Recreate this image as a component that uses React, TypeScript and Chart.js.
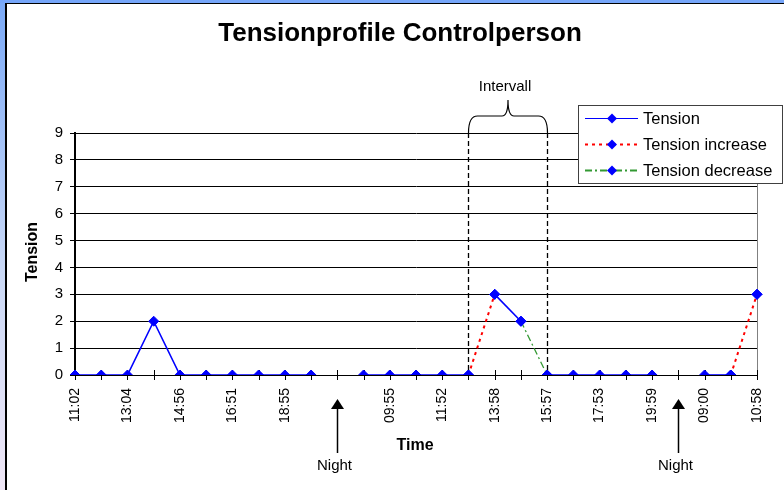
import React, { useEffect, useRef } from 'react';
import { Chart, registerables } from 'chart.js';

Chart.register(...registerables);

// ---------- data ----------
const categories: string[] = [
  '11:02', '', '13:04', '', '14:56', '', '16:51', '', '18:55', '', '', '',
  '09:55', '', '11:52', '', '13:58', '', '15:57', '', '17:53', '', '19:59', '',
  '09:00', '', '10:58',
];
const tension: (number | null)[] = [
  0, 0, 0, 2, 0, 0, 0, 0, 0, 0, null, 0, 0, 0, 0, 0, 3, 2, 0, 0, 0, 0, 0, null, 0, 0, 3,
];
const tensionIncrease: (number | null)[] = [
  null, null, null, null, null, null, null, null, null, null, null, null, null, null, null,
  0, 3, null, null, null, null, null, null, null, null, 0, 3,
];
const tensionDecrease: (number | null)[] = [
  null, null, null, null, null, null, null, null, null, null, null, null, null, null, null,
  null, null, 2, 0, null, null, null, null, null, null, null, null,
];
const yMin = 0;
const yMax = 9;
const yStep = 1;
const nightIndices = [10, 23];
const intervalStart = 15;
const intervalEnd = 18;

const titleText = 'Tensionprofile Controlperson';
const xTitle = 'Time';
const yTitle = 'Tension';
const intervalText = 'Intervall';
const nightText = 'Night';
const seriesNames = ['Tension', 'Tension increase', 'Tension decrease'];

// ---------- styles ----------
const FONT = "'Liberation Sans', Arial, sans-serif";
const BLUE = '#0000ff';
const RED = '#ff0000';
const GREEN = '#339933';

function drawDiamond(ctx: CanvasRenderingContext2D, x: number, y: number, r: number) {
  ctx.beginPath();
  ctx.moveTo(x, y - r);
  ctx.lineTo(x + r, y);
  ctx.lineTo(x, y + r);
  ctx.lineTo(x - r, y);
  ctx.closePath();
  ctx.fillStyle = BLUE;
  ctx.fill();
}

const overlayPlugin = {
  id: 'overlay',
  beforeDatasetsDraw(chart: any) {
    const { ctx, chartArea: a, scales } = chart;
    const x = scales.x;
    const y = scales.y;
    const y0 = y.getPixelForValue(0);
    ctx.save();
    // right plot border
    ctx.strokeStyle = '#808080';
    ctx.lineWidth = 1;
    const rx = Math.round(a.right) + 0.5;
    ctx.beginPath();
    ctx.moveTo(rx, a.top);
    ctx.lineTo(rx, y0 + 5);
    ctx.stroke();
    // category tick marks crossing the axis
    ctx.strokeStyle = '#000';
    for (let i = 0; i < categories.length; i++) {
      const px = Math.round(x.getPixelForValue(i)) + 0.5;
      ctx.beginPath();
      ctx.moveTo(px, y0 - 5);
      ctx.lineTo(px, y0 + 5);
      ctx.stroke();
    }
    // interval dashed lines
    ctx.setLineDash([5, 3]);
    ctx.lineWidth = 1.3;
    for (const idx of [intervalStart, intervalEnd]) {
      const px = Math.round(x.getPixelForValue(idx)) + 0.5;
      ctx.beginPath();
      ctx.moveTo(px, a.top);
      ctx.lineTo(px, y0);
      ctx.stroke();
    }
    ctx.restore();
  },
  afterDraw(chart: any) {
    const { ctx, chartArea: a, scales } = chart;
    const x = scales.x;
    const y = scales.y;
    const y0 = y.getPixelForValue(0);
    ctx.save();
    ctx.fillStyle = '#000';
    ctx.strokeStyle = '#000';

    // title
    ctx.font = `bold 26px ${FONT}`;
    ctx.textAlign = 'center';
    ctx.textBaseline = 'middle';
    ctx.fillText(titleText, 400, 34);

    // x title
    ctx.font = `bold 16px ${FONT}`;
    ctx.fillText(xTitle, 415, 446);

    // y title
    ctx.save();
    ctx.translate(33, 252);
    ctx.rotate(-Math.PI / 2);
    ctx.fillText(yTitle, 0, 0);
    ctx.restore();

    // brace
    const x1 = Math.round(x.getPixelForValue(intervalStart)) + 0.5;
    const x2 = Math.round(x.getPixelForValue(intervalEnd)) + 0.5;
    const mid = (x1 + x2) / 2;
    const top = a.top;
    const hy = top - 17;
    const tipY = top - 33;
    ctx.lineWidth = 1.2;
    ctx.beginPath();
    ctx.moveTo(x1, top);
    ctx.quadraticCurveTo(x1, hy, x1 + 9, hy);
    ctx.lineTo(mid - 6, hy);
    ctx.quadraticCurveTo(mid, hy, mid, tipY);
    ctx.quadraticCurveTo(mid, hy, mid + 6, hy);
    ctx.lineTo(x2 - 9, hy);
    ctx.quadraticCurveTo(x2, hy, x2, top);
    ctx.stroke();

    ctx.font = `15px ${FONT}`;
    ctx.textAlign = 'center';
    ctx.fillText(intervalText, mid - 3, tipY - 13);

    // night arrows
    for (const idx of nightIndices) {
      const px = Math.round(x.getPixelForValue(idx)) + 0.5;
      ctx.beginPath();
      ctx.moveTo(px, y0 + 24);
      ctx.lineTo(px + 6.5, y0 + 34);
      ctx.lineTo(px - 6.5, y0 + 34);
      ctx.closePath();
      ctx.fill();
      ctx.lineWidth = 1.5;
      ctx.beginPath();
      ctx.moveTo(px, y0 + 33);
      ctx.lineTo(px, y0 + 78);
      ctx.stroke();
      ctx.font = `15px ${FONT}`;
      ctx.fillText(nightText, px - 3, y0 + 91);
    }

    // legend
    const lx = 578.5;
    const ly = 105.5;
    const lw = 204;
    const lh = 78;
    ctx.fillStyle = '#fff';
    ctx.fillRect(lx, ly, lw, lh);
    ctx.strokeStyle = '#404040';
    ctx.lineWidth = 1;
    ctx.strokeRect(lx, ly, lw, lh);
    chart.data.datasets.forEach((ds: any, i: number) => {
      const ry = 118 + i * 26;
      ctx.save();
      ctx.strokeStyle = ds.borderColor;
      ctx.lineWidth = ds.legendLineWidth ?? ds.borderWidth;
      ctx.setLineDash(ds.borderDash || []);
      ctx.beginPath();
      ctx.moveTo(585, ry + 0.5);
      ctx.lineTo(638, ry + 0.5);
      ctx.stroke();
      ctx.restore();
      drawDiamond(ctx, 612, ry + 0.5, 5);
      ctx.fillStyle = '#000';
      ctx.font = `16.5px ${FONT}`;
      ctx.textAlign = 'left';
      ctx.textBaseline = 'middle';
      ctx.fillText(ds.label, 643, ry + 1);
    });

    ctx.restore();
  },
};

export default function App() {
  const canvasRef = useRef<HTMLCanvasElement | null>(null);

  useEffect(() => {
    const canvas = canvasRef.current;
    if (!canvas) return;
    const hidden = (p0: number, p1: number) =>
      (tensionIncrease[p0] != null && tensionIncrease[p1] != null) ||
      (tensionDecrease[p0] != null && tensionDecrease[p1] != null);

    const pointStyle = {
      pointStyle: 'rectRot',
      pointRadius: 5,
      pointBorderWidth: 1,
      pointBackgroundColor: BLUE,
      pointBorderColor: BLUE,
    };

    const chart = new Chart(canvas, {
      type: 'line',
      data: {
        labels: categories,
        datasets: [
          {
            label: seriesNames[0],
            data: tension,
            borderColor: BLUE,
            borderWidth: 1.6,
            legendLineWidth: 1,
            spanGaps: false,
            segment: {
              borderColor: (c: any) => (hidden(c.p0DataIndex, c.p1DataIndex) ? 'rgba(0,0,0,0)' : BLUE),
            },
            ...pointStyle,
          } as any,
          {
            label: seriesNames[1],
            data: tensionIncrease,
            borderColor: RED,
            borderWidth: 2,
            borderDash: [3, 4],
            spanGaps: false,
            ...pointStyle,
          } as any,
          {
            label: seriesNames[2],
            data: tensionDecrease,
            borderColor: GREEN,
            borderWidth: 1.3,
            legendLineWidth: 2,
            borderDash: [7, 3, 2, 3],
            spanGaps: false,
            ...pointStyle,
          } as any,
        ],
      },
      options: {
        responsive: false,
        animation: false,
        devicePixelRatio: 1,
        layout: { padding: { left: 0, right: 27, top: 133, bottom: 0 } },
        plugins: {
          legend: { display: false },
          tooltip: { enabled: false },
          title: { display: false },
        },
        elements: { line: { tension: 0 } },
        scales: {
          x: {
            type: 'category',
            offset: false,
            afterFit: (s: any) => {
              s.height = 115;
              s.paddingRight = 0;
              s.paddingLeft = 0;
            },
            grid: { display: false, drawOnChartArea: false, drawTicks: false },
            border: { display: true, color: '#000', width: 1 },
            ticks: {
              autoSkip: false,
              maxRotation: 90,
              minRotation: 90,
              padding: 13,
              color: '#000',
              font: { family: FONT, size: 14 },
            },
          },
          y: {
            min: yMin,
            max: yMax,
            afterFit: (s: any) => {
              s.width = 75;
            },
            grid: {
              color: '#000',
              lineWidth: 1,
              drawTicks: true,
              tickLength: 5,
              tickColor: '#000',
            },
            border: { display: true, color: '#000', width: 2 },
            ticks: {
              stepSize: yStep,
              padding: 7,
              color: '#000',
              font: { family: FONT, size: 15 },
            },
          },
        },
      } as any,
      plugins: [overlayPlugin],
    });
    return () => chart.destroy();
  }, []);

  return (
    <div style={{ position: 'fixed', left: 0, top: 0, width: 784, height: 490, overflow: 'hidden', background: '#fff' }}>
      <div
        style={{
          position: 'absolute', left: 0, top: 0, width: 5, height: 490,
          background: 'linear-gradient(#7aa9f7, #c9d8f6 55%, #efe6f6)',
        }}
      />
      <div style={{ position: 'absolute', left: 0, top: 0, width: 784, height: 3, background: '#76a6fa' }} />
      <div
        style={{
          position: 'absolute', left: 5, top: 3, width: 779, height: 487,
          borderLeft: '2px solid #000', borderTop: '1px solid #000', background: '#fff', boxSizing: 'border-box',
        }}
      />
      <canvas
        ref={canvasRef}
        width={784}
        height={490}
        style={{ position: 'absolute', left: 0, top: 0, width: 784, height: 490 }}
      />
    </div>
  );
}
